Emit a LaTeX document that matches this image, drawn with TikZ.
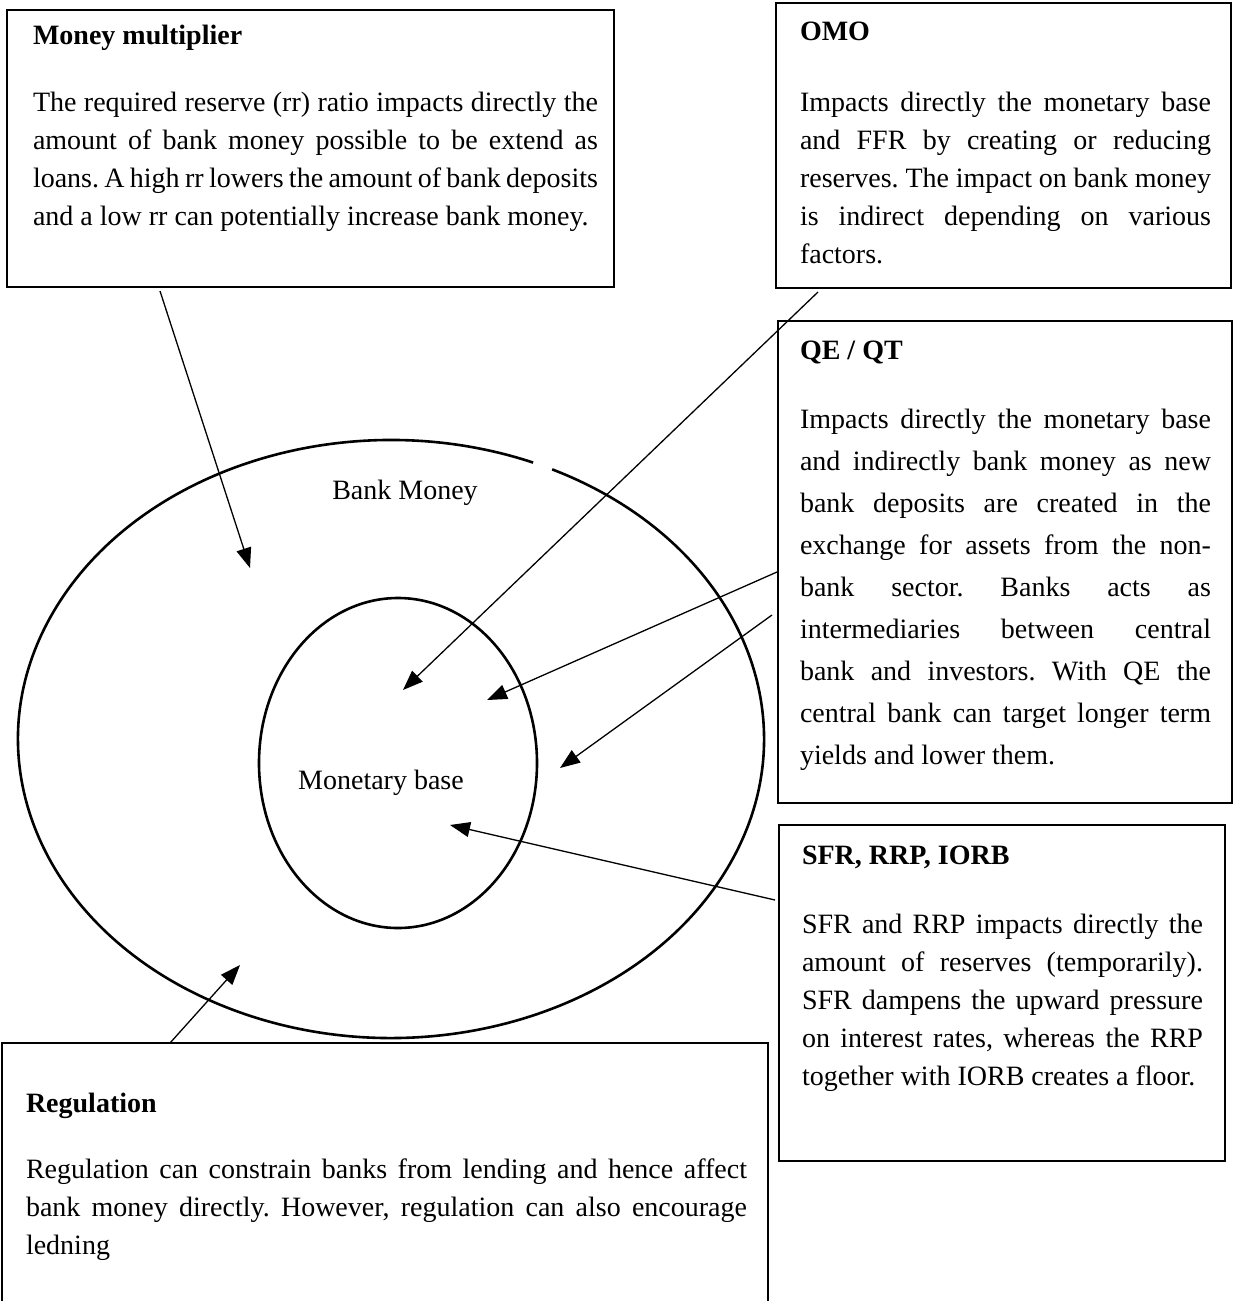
\documentclass[tikz,border=0pt]{standalone}
\usepackage{fontspec}
\setmainfont{Liberation Serif}
\usetikzlibrary{arrows.meta,calc}
\newcommand{\jl}[2]{\makebox[#1pt][s]{#2}}
\frenchspacing
\begin{document}
\begin{tikzpicture}[x=1pt,y=-1pt,
  every node/.style={inner sep=0pt, outer sep=0pt},
  frame/.style={draw, line width=2.2pt, anchor=north west},
  ttl/.style={anchor=base west, font=\fontsize{28}{38}\selectfont\bfseries},
  body/.style={anchor=north west, align=left, font=\fontsize{28}{38}\selectfont\frenchspacing},
  lbl/.style={font=\fontsize{28}{38}\selectfont},
  ring/.style={line width=2.6pt},
  arr/.style={line width=1.3pt, -{Triangle[length=20pt,width=15pt]}}]
\useasboundingbox (0,0) rectangle (1235,1301);

% boxes
\node[frame, minimum width=607pt, minimum height=277pt] (mmbox) at (7,10) {};
\node[frame, minimum width=455pt, minimum height=285pt] (omobox) at (776,3) {};
\node[frame, minimum width=454pt, minimum height=482pt] (qebox) at (778,321) {};
\node[frame, minimum width=446pt, minimum height=336pt] (sfrbox) at (779,825) {};
\node[frame, minimum width=766pt, minimum height=400pt] (regbox) at (2,1043) {};

% texts
\node[ttl] (mmt) at (33,44) {Money multiplier};
\node[body] (mmb) at (33,92) {\jl{565}{The required reserve (rr) ratio impacts directly the}\\
\jl{565}{amount of bank money possible to be extend as}\\
\jl{565}{loans. A high rr lowers the amount of bank deposits}\\
and a low rr can potentially increase bank money.};

\node[ttl] (omot) at (800,40) {OMO};
\node[body] (omob) at (800,92) {\jl{411}{Impacts directly the monetary base}\\
\jl{411}{and FFR by creating or reducing}\\
\jl{411}{reserves. The impact on bank money}\\
\jl{411}{is indirect depending on various}\\
factors.};

\node[ttl] (qet) at (800,359) {QE / QT};
\node[body, font=\fontsize{28}{42}\selectfont\frenchspacing] (qeb) at (800,409) {\jl{411}{Impacts directly the monetary base}\\
\jl{411}{and indirectly bank money as new}\\
\jl{411}{bank deposits are created in the}\\
\jl{411}{exchange for assets from the non-}\\
\jl{411}{bank sector. Banks acts as}\\
\jl{411}{intermediaries between central}\\
\jl{411}{bank and investors. With QE the}\\
\jl{411}{central bank can target longer term}\\
yields and lower them.};

\node[ttl] (sfrt) at (802,864) {SFR, RRP, IORB};
\node[body] (sfrb) at (802,914) {\jl{401}{SFR and RRP impacts directly the}\\
\jl{401}{amount of reserves (temporarily).}\\
\jl{401}{SFR dampens the upward pressure}\\
\jl{401}{on interest rates, whereas the RRP}\\
together with IORB creates a floor.};

\node[ttl] (regt) at (26,1112) {Regulation};
\node[body] (regb) at (26,1159) {\jl{721}{Regulation can constrain banks from lending and hence affect}\\
\jl{721}{bank money directly. However, regulation can also encourage}\\
ledning};

% ellipses
\draw[ring] ([shift={(-64.4:373 and 299)}]391,739) arc[start angle=-64.4, end angle=292.4, x radius=373, y radius=299];
\draw[ring] (398,763) ellipse [x radius=139, y radius=165];
\node[lbl] (bm) at (405,493) {Bank Money};
\node[lbl] (mb) at (381,783) {Monetary base};

% arrows
\coordinate (mmtip) at (250,568);
\coordinate (omotip) at (403,690);
\coordinate (qetip1) at (487,700);
\coordinate (qetip2) at (560,768);
\coordinate (sfrtip) at (450,825);
\coordinate (regtip) at (240,965);
\draw[arr] ($(mmbox.south west)+(153,4)$) -- (mmtip);
\draw[arr] ($(omobox.south west)+(42,4)$) -- (omotip);
\draw[arr] ($(qebox.north west)+(-1,251)$) -- (qetip1);
\draw[arr] ($(qebox.north west)+(-6,294)$) -- (qetip2);
\draw[arr] ($(sfrbox.north west)+(-4,75)$) -- (sfrtip);
\draw[arr] ($(regbox.north west)+(168,0)$) -- (regtip);
\end{tikzpicture}
\end{document}
